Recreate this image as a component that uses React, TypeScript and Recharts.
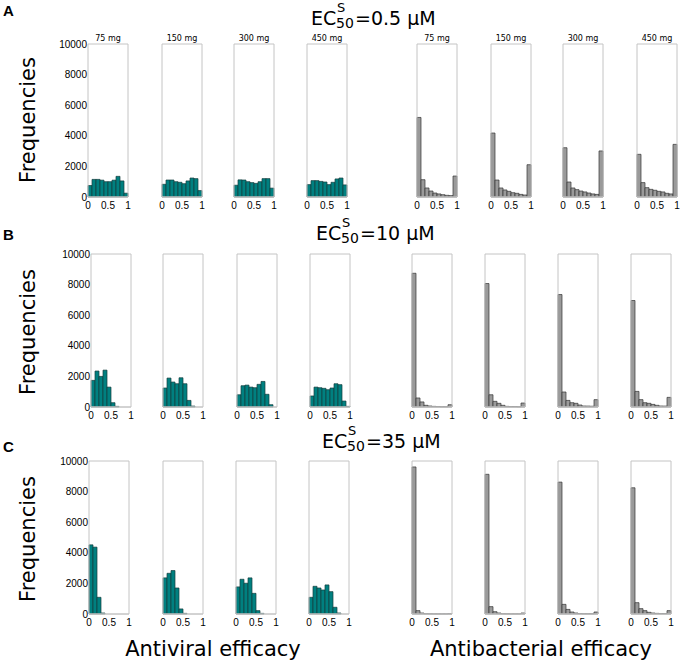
import React from 'react';
import { BarChart, Bar, XAxis, YAxis } from 'recharts';

// ---------- data ----------
const BIN_CENTERS = [0.05, 0.15, 0.25, 0.35, 0.45, 0.55, 0.65, 0.75, 0.85, 0.95];
const DOSES = ['75 mg', '150 mg', '300 mg', '450 mg'];
const Y_TICKS = [0, 2000, 4000, 6000, 8000, 10000];
const X_TICKS = [0, 0.5, 1];
const X_TICK_LABELS = ['0', '0.5', '1'];

// EC50 = 0.5 uM
const antiviral05_75 = [750, 1150, 1150, 1100, 1000, 1000, 1100, 1350, 1050, 250];
const antiviral05_150 = [830, 1110, 1110, 1000, 960, 870, 1050, 1240, 1200, 420];
const antiviral05_300 = [770, 1120, 1110, 1000, 940, 890, 1000, 1200, 1200, 580];
const antiviral05_450 = [810, 1070, 1070, 1020, 980, 810, 960, 1180, 1240, 790];
const antibact05_75 = [5200, 1130, 590, 390, 260, 200, 150, 110, 90, 1370];
const antibact05_150 = [4180, 1110, 590, 460, 370, 280, 240, 170, 130, 2110];
const antibact05_300 = [3220, 980, 590, 480, 390, 330, 260, 200, 170, 3010];
const antibact05_450 = [2790, 940, 610, 500, 440, 370, 330, 240, 200, 3440];

// EC50 = 10 uM
const antiviral10_75 = [1740, 2350, 2000, 2410, 1300, 280, 40, 0, 0, 0];
const antiviral10_150 = [1240, 1890, 1630, 1520, 1910, 1520, 430, 60, 0, 0];
const antiviral10_300 = [800, 1390, 1430, 1300, 1260, 1480, 1670, 830, 150, 0];
const antiviral10_450 = [720, 1300, 1260, 1220, 1130, 1240, 1520, 1460, 390, 40];
const antibact10_75 = [8740, 590, 330, 110, 65, 40, 30, 20, 20, 150];
const antibact10_150 = [8070, 800, 370, 240, 110, 40, 30, 30, 20, 260];
const antibact10_300 = [7350, 980, 430, 280, 240, 130, 65, 60, 50, 480];
const antibact10_450 = [6960, 1020, 480, 280, 240, 170, 110, 65, 60, 630];

// EC50 = 35 uM
const antiviral35_75 = [4520, 4370, 1090, 65, 0, 0, 0, 0, 0, 0];
const antiviral35_150 = [2360, 2660, 2840, 1700, 330, 40, 0, 0, 0, 0];
const antiviral35_300 = [1770, 2270, 2010, 2360, 1350, 220, 40, 0, 0, 0];
const antiviral35_450 = [1090, 1810, 1700, 1570, 1900, 1460, 440, 65, 0, 0];
const antibact35_75 = [9610, 220, 65, 20, 15, 10, 10, 10, 10, 20];
const antibact35_150 = [9130, 480, 150, 65, 20, 15, 10, 10, 10, 65];
const antibact35_300 = [8620, 630, 300, 130, 65, 30, 20, 20, 20, 130];
const antibact35_450 = [8250, 740, 350, 220, 110, 65, 40, 30, 30, 220];

const ROW_SERIES = [
  [antiviral05_75, antiviral05_150, antiviral05_300, antiviral05_450, antibact05_75, antibact05_150, antibact05_300, antibact05_450],
  [antiviral10_75, antiviral10_150, antiviral10_300, antiviral10_450, antibact10_75, antibact10_150, antibact10_300, antibact10_450],
  [antiviral35_75, antiviral35_150, antiviral35_300, antiviral35_450, antibact35_75, antibact35_150, antibact35_300, antibact35_450],
];
const ROW_LETTERS = ['A', 'B', 'C'];
const ROW_EC_VALUES = ['=0.5 μM', '=10 μM', '=35 μM'];

// ---------- layout ----------
const ROW_TOPS = [44, 254, 461];
const PLOT_H = 153;
const ROW_LEFTS = [
  [88, 162, 234, 307, 417, 491, 563, 637],
  [91, 163, 237, 310, 412, 485, 558, 631],
  [89, 163, 236, 309, 412, 485, 558, 631],
];
const PLOT_W = 40;
const TITLE_POS = [
  { x: 311, y: 25 },
  { x: 316, y: 240 },
  { x: 322, y: 448 },
];
const LETTER_Y = [16, 240, 452];
const FREQ_CENTER_Y = [120, 332, 539];

const FRAME = '#c4c4c4';
const TEAL = '#008080';
const TEAL_EDGE = '#143c3c';
const GREY = '#9a9a9a';
const GREY_EDGE = '#333333';
const SANS = 'DejaVu Sans, Verdana, sans-serif';
const TICK_FONT = 'Liberation Sans, Arial, sans-serif';

type PanelProps = {
  left: number;
  top: number;
  values: number[];
  fill: string;
  stroke: string;
  showY: boolean;
};

function Panel({ left, top, values, fill, stroke, showY }: PanelProps) {
  const padL = showY ? 42 : 4;
  const padR = 4;
  const padT = 4;
  const axisH = 16;
  const width = padL + PLOT_W + padR;
  const height = padT + PLOT_H + axisH;
  const data = BIN_CENTERS.map((x, i) => ({ x, v: values[i] }));
  return (
    <div style={{ position: 'absolute', left: left - padL, top: top - padT }}>
      <BarChart
        width={width}
        height={height}
        data={data}
        margin={{ top: padT, right: padR, bottom: 0, left: showY ? 0 : padL }}
        barCategoryGap={0}
        barGap={0}
      >
        <XAxis
          xAxisId="b"
          dataKey="x"
          type="number"
          domain={[0, 1]}
          ticks={X_TICKS}
          interval={0}
          height={axisH}
          tickFormatter={(v: number) => X_TICK_LABELS[X_TICKS.indexOf(v)] ?? String(v)}
          tick={{ fontSize: 10, fill: '#000', fontFamily: TICK_FONT }}
          tickLine={false}
          tickSize={4}
          tickMargin={1}
          axisLine={{ stroke: FRAME }}
        />
        <XAxis
          xAxisId="bm"
          orientation="bottom"
          type="number"
          domain={[0, 1]}
          ticks={X_TICKS}
          interval={0}
          height={1}
          mirror
          tick={false}
          tickSize={2}
          tickLine={{ stroke: FRAME }}
          axisLine={{ stroke: FRAME }}
        />
        <XAxis
          xAxisId="t"
          orientation="top"
          type="number"
          domain={[0, 1]}
          ticks={X_TICKS}
          interval={0}
          height={1}
          mirror
          tick={false}
          tickSize={2}
          tickLine={{ stroke: FRAME }}
          axisLine={{ stroke: FRAME }}
        />
        <YAxis
          yAxisId="l"
          type="number"
          domain={[0, 10000]}
          ticks={Y_TICKS}
          interval={0}
          width={showY ? 42 : 0}
          hide={!showY}
          tick={{ fontSize: 10, fill: '#000', fontFamily: TICK_FONT }}
          tickLine={false}
          tickSize={1}
          tickMargin={0}
          axisLine={false}
        />
        <YAxis
          yAxisId="lm"
          type="number"
          domain={[0, 10000]}
          ticks={Y_TICKS}
          interval={0}
          width={1}
          mirror
          tick={false}
          tickSize={2}
          tickLine={{ stroke: FRAME }}
          axisLine={{ stroke: FRAME }}
        />
        <YAxis
          yAxisId="r"
          orientation="right"
          type="number"
          domain={[0, 10000]}
          ticks={Y_TICKS}
          interval={0}
          width={1}
          mirror
          tick={false}
          tickSize={2}
          tickLine={{ stroke: FRAME }}
          axisLine={{ stroke: FRAME }}
        />
        <Bar
          xAxisId="b"
          yAxisId="l"
          dataKey="v"
          fill={fill}
          stroke={stroke}
          strokeWidth={0.7}
          isAnimationActive={false}
        />
      </BarChart>
    </div>
  );
}

export default function App() {
  return (
    <div style={{ position: 'absolute', left: 0, top: 0, width: 680, height: 662, background: '#fff', overflow: 'hidden' }}>
      {ROW_SERIES.map((row, r) =>
        row.map((vals, c) => (
          <Panel
            key={`${r}-${c}`}
            left={ROW_LEFTS[r][c]}
            top={ROW_TOPS[r]}
            values={vals}
            fill={c < 4 ? TEAL : GREY}
            stroke={c < 4 ? TEAL_EDGE : GREY_EDGE}
            showY={c === 0}
          />
        ))
      )}
      <svg width={680} height={662} style={{ position: 'absolute', left: 0, top: 0, pointerEvents: 'none' }}>
        {ROW_LETTERS.map((L, r) => (
          <text key={L} x={3} y={LETTER_Y[r]} fontSize={15} fontWeight="bold" fontFamily={TICK_FONT} fill="#000">
            {L}
          </text>
        ))}
        {TITLE_POS.map((p, r) => (
          <text key={`t${r}`} fontFamily={SANS} fill="#000">
            <tspan x={p.x} y={p.y} fontSize={19}>EC</tspan>
            <tspan x={p.x + 26} y={p.y - 13} fontSize={13}>S</tspan>
            <tspan x={p.x + 25} y={p.y + 3} fontSize={14}>50</tspan>
            <tspan x={p.x + 44} y={p.y} fontSize={19}>{ROW_EC_VALUES[r]}</tspan>
          </text>
        ))}
        {FREQ_CENTER_Y.map((cy, r) => (
          <text
            key={`f${r}`}
            x={0}
            y={0}
            transform={`translate(35 ${cy}) rotate(-90)`}
            textAnchor="middle"
            fontSize={21}
            fontFamily={SANS}
            fill="#000"
          >
            Frequencies
          </text>
        ))}
        {ROW_LEFTS[0].map((lx, c) => (
          <text key={`d${c}`} x={lx + PLOT_W / 2} y={41} textAnchor="middle" fontSize={8} fontFamily={SANS} fill="#000">
            {DOSES[c % 4]}
          </text>
        ))}
        <text x={213} y={656} textAnchor="middle" fontSize={21} fontFamily={SANS} fill="#000">
          Antiviral efficacy
        </text>
        <text x={541} y={656} textAnchor="middle" fontSize={21} fontFamily={SANS} fill="#000">
          Antibacterial efficacy
        </text>
      </svg>
    </div>
  );
}
